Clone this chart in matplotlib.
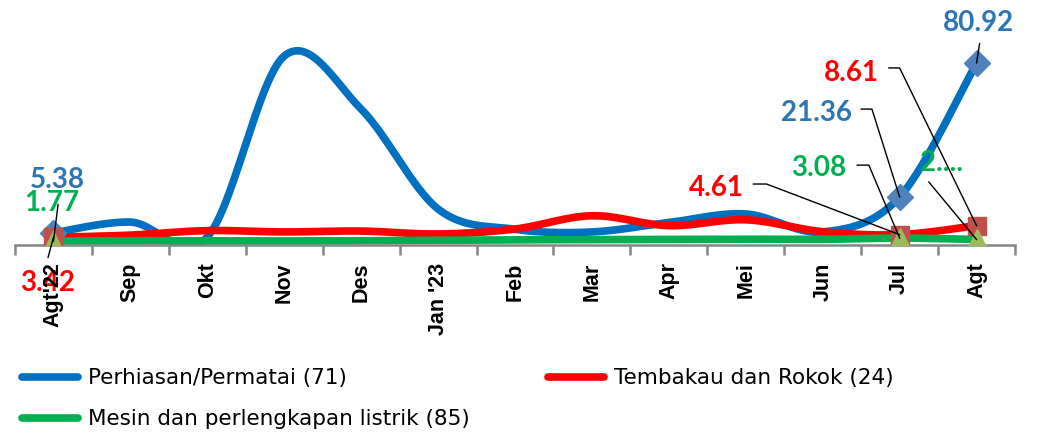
import numpy as np
import matplotlib
matplotlib.use('Agg')
import matplotlib.pyplot as plt

# kategori bulan
months = ["Agt'22", 'Sep', 'Okt', 'Nov', 'Des', "Jan '23", 'Feb', 'Mar',
          'Apr', 'Mei', 'Jun', 'Jul', 'Agt']

# nilai tiap golongan barang
perhiasan = [5.38, 10.2, 3.6, 84.0, 60.4, 16.0, 7.0, 5.8, 10.0, 13.8, 5.8, 21.36, 80.92]
tembakau = [3.42, 4.4, 6.4, 5.8, 6.2, 4.9, 7.1, 13.0, 8.6, 11.2, 5.9, 4.61, 8.61]
mesin = [1.77, 1.9, 1.8, 1.8, 1.9, 2.1, 2.3, 2.4, 2.5, 2.6, 2.5, 3.08, 2.45]

names = ['Perhiasan/Permatai (71)', 'Tembakau dan Rokok (24)',
         'Mesin dan perlengkapan listrik (85)']
line_colors = ['#0070C0', '#FF0000', '#00B050']
marker_colors = ['#4F81BD', '#C0504D', '#9BBB59']
text_colors = ['#2E75B6', '#FF0000', '#00B050']
markers = ['D', 's', '^']
label_idx = [0, 11, 12]   # titik yang diberi label

LABEL_FONT = ['Lato', 'DejaVu Sans']


def smooth(y, n=30):
    # kurva halus ala Excel (catmull-rom)
    y = np.asarray(y, dtype=float)
    x = np.arange(len(y), dtype=float)
    px = np.concatenate([[x[0]], x, [x[-1]]])
    py = np.concatenate([[y[0]], y, [y[-1]]])
    xs, ys = [], []
    t = np.linspace(0, 1, n)
    for i in range(1, len(px) - 2):
        p0, p1, p2, p3 = [np.array([px[j], py[j]]) for j in (i - 1, i, i + 1, i + 2)]
        c1 = p1 + (p2 - p0) / 6.0
        c2 = p2 - (p3 - p1) / 6.0
        pts = ((1 - t) ** 3)[:, None] * p1 + (3 * (1 - t) ** 2 * t)[:, None] * c1 \
            + (3 * (1 - t) * t ** 2)[:, None] * c2 + (t ** 3)[:, None] * p2
        xs.append(pts[:, 0])
        ys.append(pts[:, 1])
    return np.concatenate(xs), np.concatenate(ys)


fig = plt.figure(figsize=(10.37, 4.35), dpi=100)
ax = fig.add_axes([15 / 1037, (435 - 246) / 435, 1000 / 1037, 225 / 435])

series = [perhiasan, tembakau, mesin]
for k, vals in enumerate(series):
    sx, sy = smooth(vals)
    ax.plot(sx, sy, color=line_colors[k], lw=5.5, solid_capstyle='round', zorder=2 + k * 0.1)
for k, vals in enumerate(series):
    ax.plot(label_idx, [vals[i] for i in label_idx], ls='none', marker=markers[k],
            ms=13 if k < 2 else 15, color=marker_colors[k], mec=marker_colors[k], zorder=4)

ax.set_xlim(-0.5, 12.5)
ax.set_ylim(0, 100)
for s in ['top', 'right', 'left']:
    ax.spines[s].set_visible(False)
ax.spines['bottom'].set_color('#868686')
ax.spines['bottom'].set_linewidth(1.8)
ax.set_yticks([])
ax.set_xticks(np.arange(-0.5, 13, 1))
ax.set_xticklabels([])
ax.tick_params(axis='x', length=7, width=1.8, color='#868686')
for i, m in enumerate(months):
    ax.text(i, -7.3, m, rotation=90, ha='center', va='top', fontsize=15.5,
            fontweight='bold', family=['Liberation Sans', 'DejaVu Sans'], zorder=6, clip_on=False)


def label(txt, color, pos):
    ax.text(pos[0], pos[1], txt, color=color, fontsize=20, fontweight='bold',
            family=LABEL_FONT, ha='center', va='center', zorder=5, clip_on=False)


def leader(start, idx, val, knee=None):
    xs = [start[0]]
    ys = [start[1]]
    if knee is not None:
        xs.append(knee[0])
        ys.append(knee[1])
    xs.append(idx)
    ys.append(val)
    ax.plot(xs, ys, color='black', lw=1, zorder=5, clip_on=False)


# label Agt'22
label('5.38', text_colors[0], (0.05, 29.5))
label('1.77', text_colors[2], (-0.02, 19.1))
label('3.42', text_colors[1], (-0.07, -16.5))
leader((0.06, 18.0), 0, mesin[0])
leader((-0.07, -5.5), 0, tembakau[0])

# label Jul dan Agt
label('80.92', text_colors[0], (12.03, 99))
leader((12.04, 89.5), 12, perhiasan[12])
label('8.61', text_colors[1], (10.37, 76.9))
leader((10.86, 78.7), 12, tembakau[12], knee=(11.0, 78.7))
label('21.36', text_colors[0], (9.92, 59.1))
leader((10.5, 60.4), 11, perhiasan[11], knee=(10.64, 60.4))
label('3.08', text_colors[2], (9.95, 34.7))
leader((10.45, 35.5), 11, mesin[11], knee=(10.6, 35.5))
label('4.61', text_colors[1], (8.62, 25.8))
leader((9.1, 27.1), 11, tembakau[11], knee=(9.27, 27.1))
label('2....', text_colors[2], (11.54, 36.9))
leader((11.38, 28.0), 12, mesin[12])

# legenda manual
leg_pos = [(22 / 1037, 1 - 378 / 435), (548 / 1037, 1 - 378 / 435), (22 / 1037, 1 - 419 / 435)]
for k in range(3):
    x0, y0 = leg_pos[k]
    fig.add_artist(plt.Line2D([x0, x0 + 56 / 1037], [y0, y0], color=line_colors[k],
                              lw=5.5, solid_capstyle='round', transform=fig.transFigure))
    fig.text(x0 + 66 / 1037, y0, names[k], fontsize=15.5, family=['Liberation Sans Narrow', 'DejaVu Sans'],
             va='center', ha='left')

fig.savefig('out.png', dpi=100)
